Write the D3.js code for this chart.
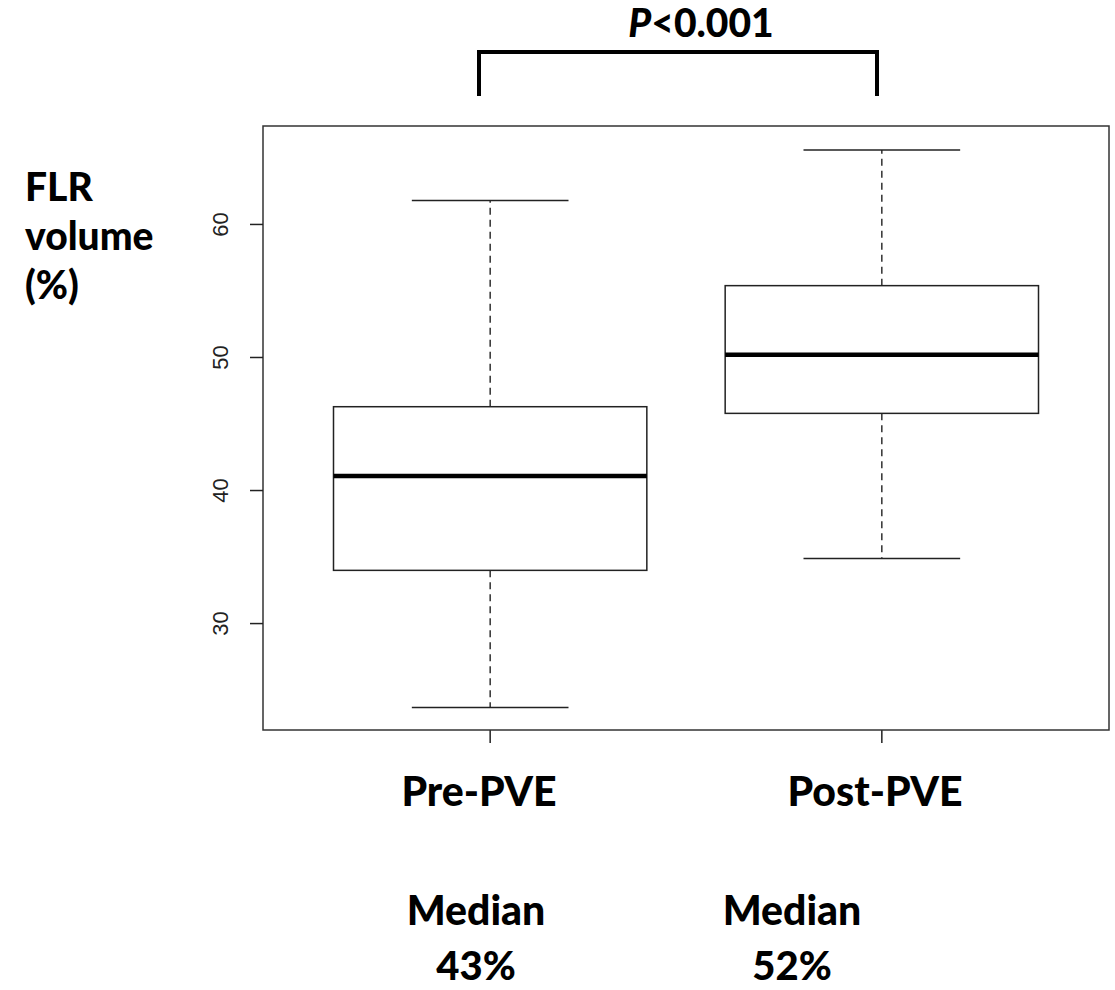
<!DOCTYPE html>
<html>
<head>
<meta charset="utf-8">
<script src="https://cdn.jsdelivr.net/npm/d3@7"></script>
<style>
  html, body { margin: 0; padding: 0; background: #fff; }
  svg { display: block; }
  .lbl { font-family: Lato, "Open Sans", sans-serif; font-weight: 900; fill: #000; }
  .tick-lbl { font-family: "Liberation Sans", Arial, sans-serif; fill: #222; }
</style>
</head>
<body>
<svg id="chart" width="1115" height="990"></svg>
<script>
// data
var groups = ["Pre-PVE", "Post-PVE"];
var whiskerLow = [23.7, 34.9];
var q1 = [34.0, 45.8];
var median = [41.1, 50.2];
var q3 = [46.3, 55.4];
var whiskerHigh = [61.8, 65.6];
var yTicks = [30, 40, 50, 60];
var medianText = ["43%", "52%"];
var pText = "<0.001";

var svg = d3.select("#chart");

// plot region (R style box)
var plotLeft = 263, plotRight = 1109, plotTop = 126, plotBottom = 730;

var x = d3.scaleLinear().domain([0.42, 2.58]).range([plotLeft, plotRight]);
var y = d3.scaleLinear().domain([22.0, 67.4]).range([plotBottom, plotTop]);

var boxW = x(1.4) - x(1.0);   // half of 0.8 width
var capW = boxW / 2;

groups.forEach(function(g, i) {
  var cx = x(i + 1);

  // whiskers (dashed)
  svg.append("line")
    .attr("x1", cx).attr("x2", cx)
    .attr("y1", y(q3[i])).attr("y2", y(whiskerHigh[i]))
    .attr("stroke", "#222").attr("stroke-width", 1.4)
    .attr("stroke-dasharray", "7,5");
  svg.append("line")
    .attr("x1", cx).attr("x2", cx)
    .attr("y1", y(q1[i])).attr("y2", y(whiskerLow[i]))
    .attr("stroke", "#222").attr("stroke-width", 1.4)
    .attr("stroke-dasharray", "7,5");

  // caps
  [whiskerLow[i], whiskerHigh[i]].forEach(function(v) {
    svg.append("line")
      .attr("x1", cx - capW).attr("x2", cx + capW)
      .attr("y1", y(v)).attr("y2", y(v))
      .attr("stroke", "#222").attr("stroke-width", 1.5);
  });

  // box
  svg.append("rect")
    .attr("x", cx - boxW).attr("y", y(q3[i]))
    .attr("width", boxW * 2).attr("height", y(q1[i]) - y(q3[i]))
    .attr("fill", "none").attr("stroke", "#222").attr("stroke-width", 1.5);

  // median
  svg.append("line")
    .attr("x1", cx - boxW).attr("x2", cx + boxW)
    .attr("y1", y(median[i])).attr("y2", y(median[i]))
    .attr("stroke", "#000").attr("stroke-width", 4.5);

  // x tick
  svg.append("line")
    .attr("x1", cx).attr("x2", cx)
    .attr("y1", plotBottom).attr("y2", plotBottom + 13)
    .attr("stroke", "#222").attr("stroke-width", 1.5);
});

// frame
svg.append("rect")
  .attr("x", plotLeft).attr("y", plotTop)
  .attr("width", plotRight - plotLeft).attr("height", plotBottom - plotTop)
  .attr("fill", "none").attr("stroke", "#333").attr("stroke-width", 1.5);

// y axis ticks + rotated labels
yTicks.forEach(function(t) {
  svg.append("line")
    .attr("x1", plotLeft - 13).attr("x2", plotLeft)
    .attr("y1", y(t)).attr("y2", y(t))
    .attr("stroke", "#222").attr("stroke-width", 1.5);
  svg.append("text")
    .attr("class", "tick-lbl")
    .attr("transform", "translate(228," + y(t) + ") rotate(-90)")
    .attr("text-anchor", "middle")
    .attr("font-size", 22)
    .text(t);
});

// group labels
var groupX = [479, 875];
groups.forEach(function(g, i) {
  svg.append("text").attr("class", "lbl")
    .attr("x", groupX[i]).attr("y", 806)
    .attr("text-anchor", "middle").attr("font-size", 41)
    .text(g);
});

// median notes
var medX = [476, 792];
medianText.forEach(function(m, i) {
  svg.append("text").attr("class", "lbl")
    .attr("x", medX[i]).attr("y", 925)
    .attr("text-anchor", "middle").attr("font-size", 41)
    .text("Median");
  svg.append("text").attr("class", "lbl")
    .attr("x", medX[i]).attr("y", 980)
    .attr("text-anchor", "middle").attr("font-size", 40)
    .text(m);
});

// y axis title
["FLR", "volume", "(%)"].forEach(function(s, i) {
  svg.append("text").attr("class", "lbl")
    .attr("x", 25).attr("y", 201 + i * 49)
    .attr("font-size", 39)
    .text(s);
});

// significance bracket
var bx1 = 479, bx2 = 877, by = 52;
svg.append("path")
  .attr("d", "M" + bx1 + ",96 V" + by + " H" + bx2 + " V96")
  .attr("fill", "none").attr("stroke", "#000").attr("stroke-width", 4);

var pt = svg.append("text").attr("class", "lbl")
  .attr("x", 701).attr("y", 37)
  .attr("text-anchor", "middle").attr("font-size", 39);
pt.append("tspan").attr("font-style", "italic").text("P");
pt.append("tspan").text(pText);
</script>
</body>
</html>
